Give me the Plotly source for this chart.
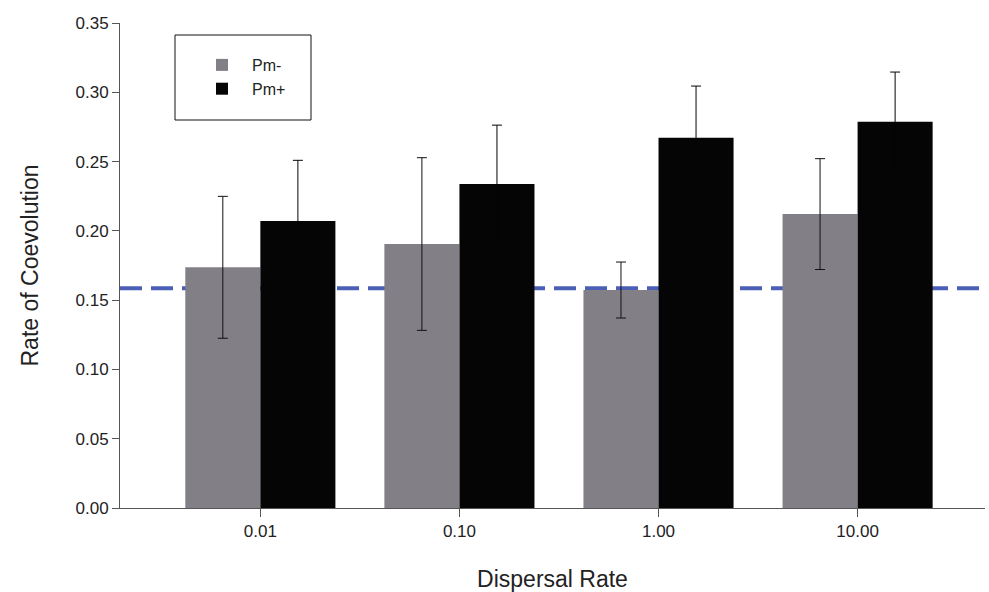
import plotly.graph_objects as go

categories = ["0.01", "0.10", "1.00", "10.00"]
pm_minus = [0.1737, 0.1905, 0.1573, 0.2121]
pm_minus_err = [0.0512, 0.0623, 0.0202, 0.0400]
pm_plus = [0.2071, 0.2338, 0.2672, 0.2787]
pm_plus_err = [0.0438, 0.0425, 0.0373, 0.0359]
baseline = 0.1585

FONT = "Liberation Sans, Arial, sans-serif"

fig = go.Figure()
fig.add_trace(go.Bar(
    x=categories, y=pm_minus, name="Pm-",
    marker=dict(color="#837f87", line=dict(width=0)),
    error_y=dict(type="data", array=pm_minus_err, visible=True,
                 color="#111111", thickness=1, width=5),
))
fig.add_trace(go.Bar(
    x=categories, y=pm_plus, name="Pm+",
    marker=dict(color="#050505", line=dict(width=0)),
    error_y=dict(type="data", array=pm_plus_err, visible=True,
                 color="#050505", thickness=1, width=5),
))

fig.add_shape(type="line", xref="paper", yref="y", x0=0, x1=1,
              y0=baseline, y1=baseline, layer="below",
              line=dict(color="#4a5fb5", width=4, dash="22px,9px"))

# legend box
fig.add_shape(type="rect", xref="paper", yref="paper",
              x0=(175 - 120) / 865, x1=(311 - 120) / 865,
              y0=(508 - 120) / 485, y1=(508 - 35) / 485,
              line=dict(color="#111111", width=1), fillcolor="rgba(0,0,0,0)")

fig.update_layout(
    width=989, height=592,
    margin=dict(l=120, r=4, t=23, b=84),
    paper_bgcolor="white", plot_bgcolor="white",
    barmode="group", bargap=0.246, bargroupgap=0,
    font=dict(family=FONT, color="#222222", size=16),
    showlegend=True,
    legend=dict(x=(192 - 120) / 865, y=(508 - 48) / 485, xanchor="left", yanchor="top",
                bgcolor="rgba(0,0,0,0)", borderwidth=0,
                font=dict(size=16, family=FONT, color="#222222"),
                itemwidth=50, tracegroupgap=0),
    xaxis=dict(
        range=[-0.705, 3.64], showgrid=False, zeroline=False,
        showline=True, linecolor="#555555", linewidth=1,
        ticks="outside", ticklen=8, tickcolor="#555555",
        tickfont=dict(size=17, family=FONT, color="#222222"),
        title=dict(text="Dispersal Rate", font=dict(size=23, family=FONT, color="#222222"), standoff=30),
    ),
    yaxis=dict(
        range=[0, 0.35], dtick=0.05, tickformat=".2f",
        showgrid=False, zeroline=False,
        showline=True, linecolor="#555555", linewidth=1,
        ticks="outside", ticklen=7, tickcolor="#555555",
        tickfont=dict(size=17, family=FONT, color="#222222"),
        title=dict(text="Rate of Coevolution", font=dict(size=23, family=FONT, color="#222222"), standoff=30),
    ),
)

fig.write_html("out.html")
